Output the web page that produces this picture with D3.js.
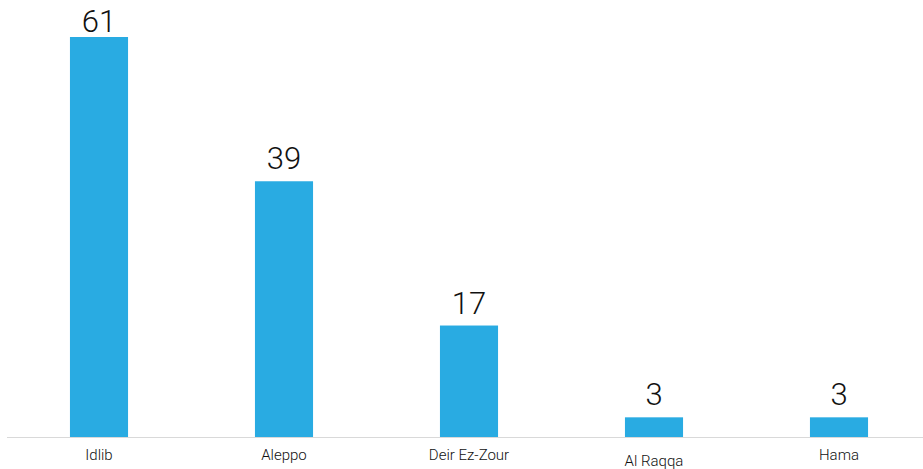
<!DOCTYPE html>
<html>
<head>
<meta charset="utf-8">
<script src="https://cdn.jsdelivr.net/npm/d3@7"></script>
<style>
  body { margin: 0; background: #fff; }
  .value-label { font-family: "Helvetica Neue", Roboto, "Liberation Sans", sans-serif; font-weight: 300; font-size: 31px; fill: #111; }
  .axis-label { font-family: "Helvetica Neue", Roboto, "Liberation Sans", sans-serif; font-weight: 300; font-size: 15px; fill: #111; }
</style>
</head>
<body>
<div id="chart"></div>
<script>
const categories = ['Idlib', 'Aleppo', 'Deir Ez-Zour', 'Al Raqqa', 'Hama'];
const values = [61, 39, 17, 3, 3];

const width = 923, height = 469;
const baseline = 437;
const topY = 37;   // top of the tallest bar

const svg = d3.select('#chart').append('svg')
  .attr('width', width)
  .attr('height', height);

const x = d3.scaleBand()
  .domain(categories)
  .range([6.5, 931.5])
  .paddingInner(0.686)
  .paddingOuter(0.343);

const y = d3.scaleLinear()
  .domain([0, 61])
  .range([baseline, topY]);

// bars
svg.append('g').selectAll('rect')
  .data(values)
  .join('rect')
  .attr('x', (d, i) => x(categories[i]))
  .attr('y', d => y(d))
  .attr('width', x.bandwidth())
  .attr('height', d => baseline - y(d))
  .attr('fill', '#29abe2');

// value labels, kept inside the top of the picture
svg.append('g').selectAll('text')
  .data(values)
  .join('text')
  .attr('class', 'value-label')
  .attr('x', (d, i) => x(categories[i]) + x.bandwidth() / 2)
  .attr('y', d => Math.max(32, y(d) - 12))
  .attr('text-anchor', 'middle')
  .text(d => d);

// baseline
svg.append('line')
  .attr('x1', 7).attr('x2', width)
  .attr('y1', baseline + 0.5).attr('y2', baseline + 0.5)
  .attr('stroke', '#d9d9d9')
  .attr('stroke-width', 1);

// category labels (Al Raqqa sits a bit lower in the original)
svg.append('g').selectAll('text')
  .data(categories)
  .join('text')
  .attr('class', 'axis-label')
  .attr('x', d => x(d) + x.bandwidth() / 2)
  .attr('y', (d, i) => i === 3 ? 466 : 460)
  .attr('text-anchor', 'middle')
  .text(d => d);
</script>
</body>
</html>
